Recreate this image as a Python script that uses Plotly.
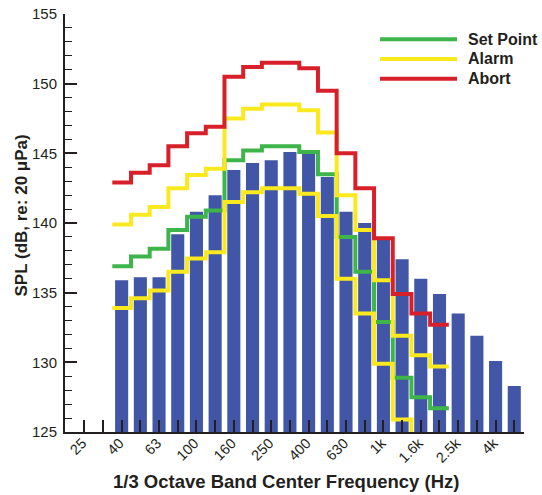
import plotly.graph_objects as go

# 1/3 octave bands (index positions on the axis)
bands = ["25", "31.5", "40", "50", "63", "80", "100", "125", "160", "200", "250", "315",
         "400", "500", "630", "800", "1k", "1.25k", "1.6k", "2k", "2.5k", "3.15k", "4k", "5k"]
tick_labels = ["25", "", "40", "", "63", "", "100", "", "160", "", "250", "",
               "400", "", "630", "", "1k", "", "1.6k", "", "2.5k", "", "4k", ""]

# measured spectrum, 40 Hz .. 5 kHz
bar_bands = bands[2:]
spl = [135.9, 136.1, 136.1, 139.2, 140.8, 142.0, 143.8, 144.3, 144.5, 145.1, 145.0,
       143.3, 140.8, 140.0, 138.8, 137.4, 136.0, 134.9, 133.5, 131.9, 130.1, 128.3]

# limit lines, 40 Hz .. 2 kHz
limit_bands = bands[2:20]
set_point = [136.9, 137.6, 138.15, 139.5, 140.45, 140.9, 144.5, 145.2, 145.5,
             145.5, 145.1, 143.5, 139.0, 136.5, 132.9, 128.9, 127.5, 126.7]
alarm_hi = [139.9, 140.6, 141.15, 142.5, 143.45, 143.9, 147.5, 148.2, 148.5,
            148.5, 148.1, 146.5, 142.0, 139.5, 135.9, 131.9, 130.5, 129.7]
alarm_lo = [133.9, 134.6, 135.15, 136.5, 137.45, 137.9, 141.5, 142.2, 142.5,
            142.5, 142.1, 140.5, 136.0, 133.5, 129.9, 125.9, 124.5, 123.7]
abort = [142.9, 143.6, 144.15, 145.5, 146.45, 146.9, 150.5, 151.2, 151.5,
         151.5, 151.1, 149.5, 145.0, 142.5, 138.9, 134.9, 133.5, 132.7]

legend_names = ["Set Point", "Alarm", "Abort"]

BLUE = "#4156A6"
GREEN = "#3DB54A"
YELLOW = "#FBE91F"
RED = "#D8202A"
INK = "#231F20"
FONT = "Arial, Liberation Sans, Helvetica, sans-serif"

idx = {b: i for i, b in enumerate(bands)}


def step_xy(band_list, vals):
    xs = [idx[b] - 0.5 for b in band_list] + [idx[band_list[-1]] + 0.5]
    ys = list(vals) + [vals[-1]]
    return xs, ys


fig = go.Figure()
fig.add_trace(go.Bar(x=[idx[b] for b in bar_bands], y=spl, width=0.7,
                     marker=dict(color=BLUE, line=dict(width=0)), showlegend=False))

for vals, col in [(set_point, GREEN), (alarm_hi, YELLOW), (alarm_lo, YELLOW), (abort, RED)]:
    xs, ys = step_xy(limit_bands, vals)
    fig.add_trace(go.Scatter(x=xs, y=ys, mode="lines", line_shape="hv",
                             line=dict(color=col, width=4), showlegend=False))

# legend drawn by hand (long line samples)
L, R, T, B = 65, 524, 14, 432
W, H = R - L, B - T
def px(x):
    return (x - L) / W
def py(y):
    return (B - y) / H

for k, (name, col) in enumerate(zip(legend_names, [GREEN, YELLOW, RED])):
    yy = 39.3 + k * 19.7
    fig.add_shape(type="line", xref="paper", yref="paper", x0=px(380), x1=px(457),
                  y0=py(yy), y1=py(yy), line=dict(color=col, width=4))
    fig.add_annotation(xref="paper", yref="paper", x=px(466), y=py(yy), text="<b>%s</b>" % name,
                       showarrow=False, xanchor="left", yanchor="middle",
                       font=dict(family=FONT, size=16, color=INK))

fig.add_annotation(xref="paper", yref="paper", x=px(286), y=py(481),
                   text="<b>1/3 Octave Band Center Frequency (Hz)</b>", showarrow=False,
                   xanchor="center", yanchor="middle",
                   font=dict(family=FONT, size=18.5, color=INK))

fig.add_annotation(xref="paper", yref="paper", x=px(20.5), y=py(216),
                   text="<b>SPL (dB, re: 20 μPa)</b>", showarrow=False, textangle=-90,
                   xanchor="center", yanchor="middle",
                   font=dict(family=FONT, size=17, color=INK))

fig.update_layout(
    width=542, height=495,
    margin=dict(l=L, r=542 - R, t=T, b=495 - B, autoexpand=False),
    paper_bgcolor="white", plot_bgcolor="white",
    font=dict(family=FONT, color=INK),
    bargap=0.3,
    xaxis=dict(range=[-1.03, 23.52], tickmode="array", tickvals=list(range(len(bands))),
               ticktext=tick_labels, tickangle=-45, ticks="inside", ticklen=12, tickwidth=2,
               tickcolor=INK, showline=True, linecolor=INK, linewidth=2, showgrid=False,
               zeroline=False, automargin=False, ticklabelshift=-2, ticklabelstandoff=-5,
               tickfont=dict(size=14.5, family=FONT, color=INK)),
    yaxis=dict(range=[125, 155], tickmode="array", tickvals=[125, 130, 135, 140, 145, 150, 155],
               ticks="inside", ticklen=12, tickwidth=2, tickcolor=INK,
               minor=dict(dtick=1, ticks="inside", ticklen=7, tickwidth=1.2, tickcolor=INK),
               showline=True, linecolor=INK, linewidth=2, showgrid=False, zeroline=False,
               automargin=False, ticklabelstandoff=3,
               tickfont=dict(size=15, family=FONT, color=INK)),
)

fig.write_html("out.html")
